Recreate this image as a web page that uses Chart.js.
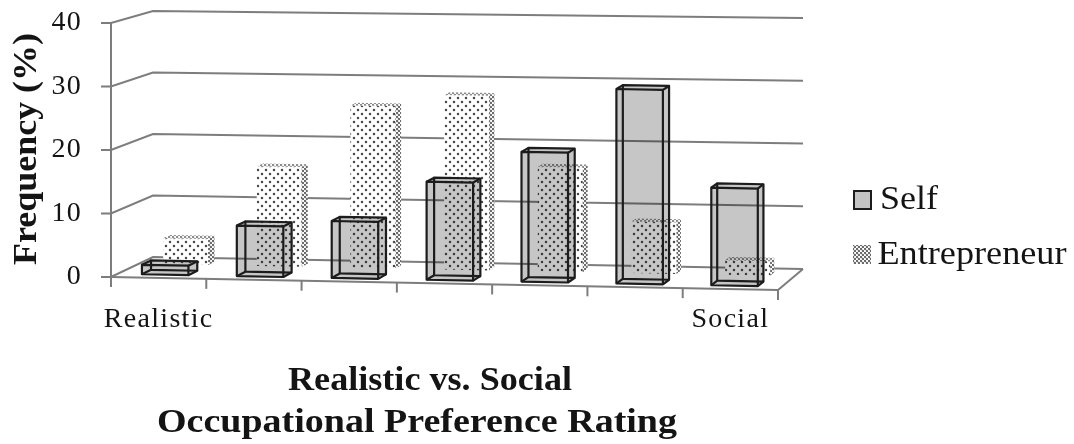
<!DOCTYPE html>
<html>
<head>
<meta charset="utf-8">
<script src="https://cdn.jsdelivr.net/npm/chart.js@4"></script>
<style>
  html, body { margin: 0; background: #fff; }
  #wrap { position: relative; width: 1074px; height: 444px; }
</style>
</head>
<body>
<div id="wrap"><canvas id="ratingChart"></canvas></div>
<script>
const categories = ["Realistic", "", "", "", "", "", "Social"];
const selfValues = [1.5, 8, 9, 15.5, 20.5, 30.7, 15.4];
const entrepreneurValues = [4.2, 16, 26, 27.9, 16.7, 8.2, 2.3];
const yTicks = [0, 10, 20, 30, 40];

const serif = "'Liberation Serif', 'Times New Roman', serif";
const inkColor = "#141414";
const gridColor = "#7d7d7d";

// depth rows on the floor, 0 is the front edge and 1 the back wall
const selfRow = [0.16, 0.38];
const entrepreneurRow = [0.66, 0.82];

// moves a point on the front plane back to a given depth
function project(chart, px, py, depth) {
  const { left, right, top, bottom } = chart.chartArea;
  const u = (px - left) / (right - left);
  const t = (bottom - py) / (bottom - top);
  return {
    x: px + depth * (42 - 17 * u),
    y: py + 13 * u + depth * (-20 - u + 8 * t - 5 * u * t)
  };
}

function polygon(ctx, points) {
  ctx.beginPath();
  points.forEach((p, i) => (i ? ctx.lineTo(p.x, p.y) : ctx.moveTo(p.x, p.y)));
  ctx.closePath();
}

function segment(ctx, a, b) {
  ctx.beginPath();
  ctx.moveTo(a.x, a.y);
  ctx.lineTo(b.x, b.y);
  ctx.stroke();
}

function dotPattern(ctx, tile, dots, color) {
  const patternCanvas = document.createElement("canvas");
  patternCanvas.width = tile;
  patternCanvas.height = tile;
  const p = patternCanvas.getContext("2d");
  p.fillStyle = "#fff";
  p.fillRect(0, 0, tile, tile);
  p.fillStyle = color;
  dots.forEach(([x, y]) => {
    p.beginPath();
    p.arc(x, y, 1.25, 0, Math.PI * 2);
    p.fill();
  });
  return ctx.createPattern(patternCanvas, "repeat");
}

// the eight corners of a bar, front and back, bottom and top
function boxCorners(chart, bar, row) {
  const half = bar.width / 2;
  const corner = (px, py, depth) => project(chart, px, py, depth);
  return {
    fbl: corner(bar.x - half, bar.base, row[0]),
    fbr: corner(bar.x + half, bar.base, row[0]),
    ftl: corner(bar.x - half, bar.y, row[0]),
    ftr: corner(bar.x + half, bar.y, row[0]),
    bbl: corner(bar.x - half, bar.base, row[1]),
    bbr: corner(bar.x + half, bar.base, row[1]),
    btl: corner(bar.x - half, bar.y, row[1]),
    btr: corner(bar.x + half, bar.y, row[1])
  };
}

function drawSelfBar(ctx, chart, bar) {
  const c = boxCorners(chart, bar, selfRow);
  ctx.save();
  // see-through grey, whatever stands behind keeps showing
  ctx.globalCompositeOperation = "multiply";
  ctx.fillStyle = "#c6c6c6";
  polygon(ctx, [c.fbl, c.fbr, c.bbr, c.btr, c.btl, c.ftl]);
  ctx.fill();
  ctx.restore();

  ctx.save();
  ctx.strokeStyle = "#1c1c1c";
  ctx.lineWidth = 2.2;
  ctx.lineJoin = "round";
  polygon(ctx, [c.ftl, c.ftr, c.fbr, c.fbl]);
  ctx.stroke();
  polygon(ctx, [c.btl, c.btr, c.bbr, c.bbl]);
  ctx.stroke();
  segment(ctx, c.ftl, c.btl);
  segment(ctx, c.ftr, c.btr);
  segment(ctx, c.fbl, c.bbl);
  segment(ctx, c.fbr, c.bbr);
  ctx.restore();
}

function drawEntrepreneurBar(ctx, chart, bar) {
  const c = boxCorners(chart, bar, entrepreneurRow);
  ctx.save();
  ctx.fillStyle = dotPattern(ctx, 8, [[2, 2], [6, 6]], "#4a4a4a");
  polygon(ctx, [c.fbl, c.fbr, c.ftr, c.ftl]);
  ctx.fill();
  ctx.fillStyle = dotPattern(ctx, 4, [[1, 1], [3, 3]], "#6a6a6a");
  polygon(ctx, [c.fbr, c.bbr, c.btr, c.ftr]);
  ctx.fill();
  ctx.fillStyle = dotPattern(ctx, 4, [[1, 1], [3, 3]], "#8a8a8a");
  polygon(ctx, [c.ftl, c.ftr, c.btr, c.btl]);
  ctx.fill();
  ctx.restore();
}

// walls, floor and tick marks, all placed from the chart scales
const wallsPlugin = {
  id: "walls",
  beforeDatasetsDraw(chart) {
    const { ctx, chartArea, scales } = chart;
    const { left, right, bottom, top } = chartArea;
    ctx.save();
    ctx.strokeStyle = gridColor;
    ctx.lineWidth = 2;

    yTicks.forEach((value) => {
      const py = scales.y.getPixelForValue(value);
      const frontLeft = project(chart, left, py, 0);
      const backLeft = project(chart, left, py, 1);
      const backRight = project(chart, right, py, 1);
      ctx.beginPath();
      ctx.moveTo(frontLeft.x - 10, frontLeft.y);
      ctx.lineTo(frontLeft.x, frontLeft.y);
      ctx.lineTo(backLeft.x, backLeft.y);
      ctx.lineTo(backRight.x, backRight.y);
      ctx.stroke();
    });

    segment(ctx, project(chart, left, top, 0), project(chart, left, bottom, 0));
    segment(ctx, project(chart, left, bottom, 0), project(chart, right, bottom, 0));
    segment(ctx, project(chart, right, bottom, 0), project(chart, right, bottom, 1));

    // tick marks on the category boundaries
    for (let i = 0; i <= categories.length; i++) {
      const px = left + ((right - left) * i) / categories.length;
      const foot = project(chart, px, bottom, 0);
      segment(ctx, foot, { x: foot.x, y: foot.y + 10 });
    }
    ctx.restore();
  },
  beforeDatasetDraw(chart, args) {
    const drawBar = args.index === 0 ? drawSelfBar : drawEntrepreneurBar;
    args.meta.data.forEach((bar) => drawBar(chart.ctx, chart, bar));
    return false;
  }
};

// text squeezed or widened to a set width
function fittedText(ctx, text, cx, cy, size, weight, width, rotate) {
  ctx.save();
  ctx.letterSpacing = "0px";
  ctx.font = `${weight} ${size}px ${serif}`;
  ctx.fillStyle = inkColor;
  ctx.textAlign = "center";
  ctx.textBaseline = "middle";
  ctx.translate(cx, cy);
  if (rotate) ctx.rotate(-Math.PI / 2);
  ctx.scale(width / ctx.measureText(text).width, 1);
  ctx.fillText(text, 0, 0);
  ctx.restore();
}

const captionsPlugin = {
  id: "captions",
  beforeDraw(chart) {
    // the tick labels run a little wide
    chart.ctx.letterSpacing = "1.3px";
  },
  afterDraw(chart) {
    const { ctx } = chart;
    ctx.letterSpacing = "0px";
    const names = chart.data.datasets.map((d) => d.label);

    fittedText(ctx, "Frequency (%)", 27, 149, 33, "bold", 232, true);
    fittedText(ctx, "Realistic vs. Social", 430, 381, 33, "bold", 284);
    fittedText(ctx, "Occupational Preference Rating", 417, 423, 33, "bold", 520);

    ctx.save();
    ctx.fillStyle = "#c4c4c4";
    ctx.strokeStyle = "#1c1c1c";
    ctx.lineWidth = 2;
    ctx.fillRect(854, 191, 17, 18);
    ctx.strokeRect(854, 191, 17, 18);
    ctx.fillStyle = dotPattern(ctx, 4, [[1, 1], [3, 3]], "#6a6a6a");
    ctx.fillRect(853, 245, 18, 19);
    ctx.restore();

    fittedText(ctx, names[0], 909, 200, 34, "normal", 58);
    fittedText(ctx, names[1], 972, 255, 34, "normal", 189);
  }
};

new Chart(document.getElementById("ratingChart"), {
  type: "bar",
  data: {
    labels: categories,
    datasets: [
      { label: "Self", data: selfValues, grouped: false, barPercentage: 0.49, categoryPercentage: 1 },
      { label: "Entrepreneur", data: entrepreneurValues, grouped: false, barPercentage: 0.48, categoryPercentage: 1 }
    ]
  },
  options: {
    responsive: true,
    maintainAspectRatio: false,
    animation: false,
    layout: { padding: { top: 23, right: 296, left: 0, bottom: 0 } },
    plugins: { legend: { display: false }, tooltip: { enabled: false } },
    scales: {
      x: {
        grid: { display: false, drawTicks: false },
        border: { display: false },
        ticks: {
          autoSkip: false,
          maxRotation: 0,
          padding: 26,
          color: inkColor,
          font: { family: serif, size: 28 }
        },
        afterFit(scale) {
          scale.height = 167;
          scale.paddingLeft = 0;
          scale.paddingRight = 0;
        }
      },
      y: {
        min: 0,
        max: 40,
        grid: { display: false, drawTicks: false },
        border: { display: false },
        ticks: {
          stepSize: 10,
          padding: 29,
          color: inkColor,
          font: { family: serif, size: 28 }
        },
        afterFit(scale) {
          scale.width = 111;
          scale.paddingTop = 0;
          scale.paddingBottom = 0;
        }
      }
    }
  },
  plugins: [wallsPlugin, captionsPlugin]
});
</script>
</body>
</html>
